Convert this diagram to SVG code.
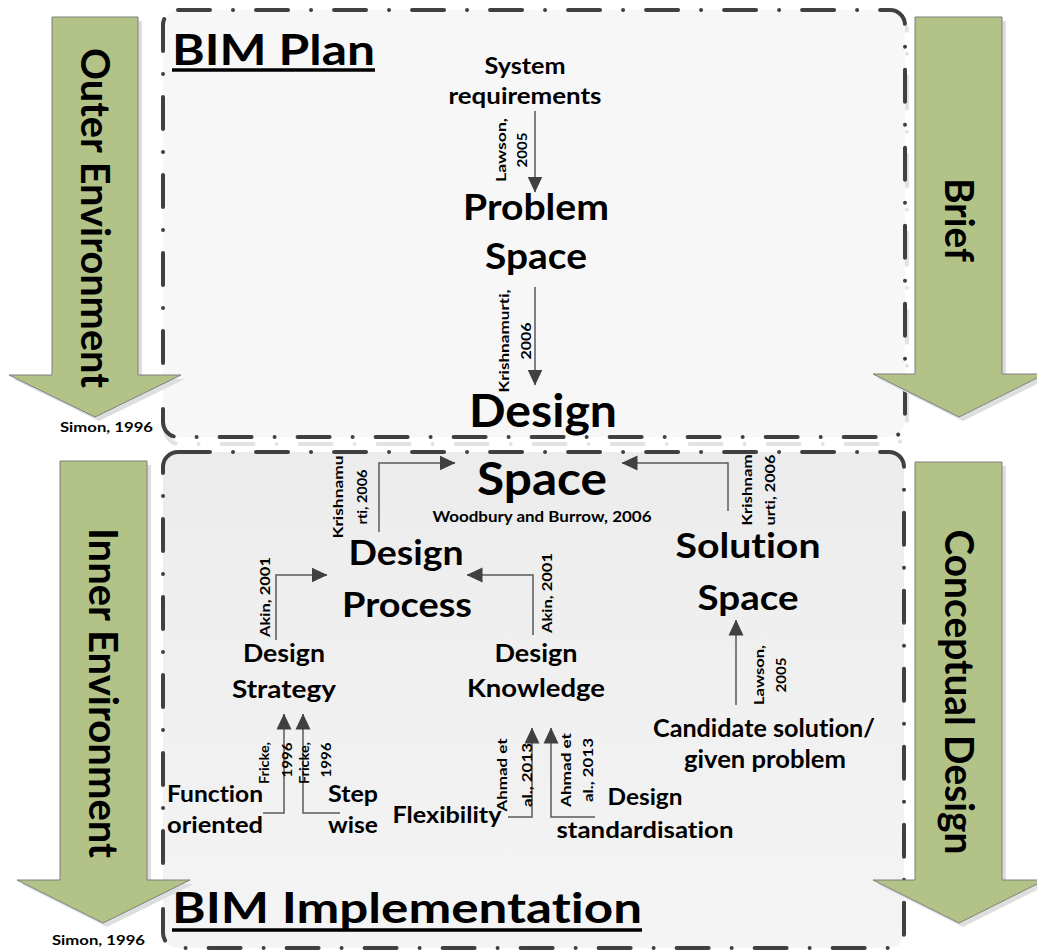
<svg xmlns="http://www.w3.org/2000/svg" width="1037" height="951" viewBox="0 0 1037 951">
<defs>
<style>
.t{font-family:Lato,"Open Sans","Liberation Sans",sans-serif;font-weight:700;fill:#000;font-variant-ligatures:none;font-feature-settings:"liga" 0,"dlig" 0}
.m{text-anchor:middle}
.conn{fill:none;stroke:#595959;stroke-width:1.5;marker-end:url(#ah)}
.green{fill:#b3c387;stroke:#7f7f7f;stroke-width:1}
.gsh{fill:#dedede}
.box{stroke:#404040;stroke-width:4;stroke-dasharray:32 23 0.01 23;stroke-linecap:round}
.boxsh{fill:none;stroke:#e2e2e2;stroke-width:4;stroke-dasharray:32 23 0.01 23;stroke-linecap:round}
.ul{stroke:#000;stroke-width:3.5}
.s13{font-size:14px}
.s14{font-size:15px}
.s22{font-size:22px}
.s24{font-size:24px}
.s35{font-size:35px}
.s36{font-size:36px}
.s40{font-size:40px}
.s42{font-size:42px}
.s45{font-size:45px}
</style>
<linearGradient id="gb" x1="0" y1="0" x2="0" y2="1">
<stop offset="0" stop-color="#ececec"/>
<stop offset="1" stop-color="#f4f4f4"/>
</linearGradient>
<marker id="ah" markerUnits="userSpaceOnUse" markerWidth="16" markerHeight="16" refX="15.5" refY="8" orient="auto">
<path d="M0,0.5 L16,8 L0,15.5 z" fill="#404040"/>
</marker>
</defs>
<rect width="1037" height="951" fill="#fff"/>

<g id="box-bim-plan">
<rect class="boxsh" x="165" y="17" width="742" height="427" rx="15"/>
<rect class="box" x="163" y="10" width="742" height="427" rx="15" fill="#f7f7f7"/>
<text class="t s42" x="172" y="65" textLength="203" lengthAdjust="spacingAndGlyphs">BIM Plan</text>
<line class="ul" x1="172" y1="70" x2="375" y2="70"/>
</g>

<g id="box-bim-implementation">
<rect class="box" x="163" y="452" width="741" height="496" rx="15" fill="url(#gb)"/>
<text class="t s42" x="172" y="923" textLength="470" lengthAdjust="spacingAndGlyphs">BIM Implementation</text>
<line class="ul" x1="172" y1="930" x2="642" y2="930"/>
</g>

<g id="arrow-outer-environment">
<polygon class="gsh" points="56,21 142,21 142,379 185,379 99,421 13,379 56,379"/>
<polygon class="green" points="52,17 138,17 138,375 181,375 95,417 9,375 52,375"/>
<text class="t s40 m" transform="translate(80.7,218) rotate(90)" textLength="340" lengthAdjust="spacingAndGlyphs">Outer Environment</text>
<text class="t s13" x="60" y="432" textLength="93" lengthAdjust="spacingAndGlyphs">Simon, 1996</text>
</g>

<g id="arrow-inner-environment">
<polygon class="gsh" points="64,465 151,465 151,884 194,884 107,927 21,884 64,884"/>
<polygon class="green" points="60,461 147,461 147,880 190,880 103,923 17,880 60,880"/>
<text class="t s40 m" transform="translate(88.7,693) rotate(90)" textLength="330" lengthAdjust="spacingAndGlyphs">Inner Environment</text>
<text class="t s13" x="52" y="945" textLength="93" lengthAdjust="spacingAndGlyphs">Simon, 1996</text>
</g>

<g id="arrow-brief">
<polygon class="gsh" points="919,21 1006,21 1006,378 1049,378 963,421 877,378 919,378"/>
<polygon class="green" points="915,17 1002,17 1002,374 1045,374 959,417 873,374 915,374"/>
<text class="t s40 m" transform="translate(944.7,220) rotate(90)" textLength="84" lengthAdjust="spacingAndGlyphs">Brief</text>
</g>

<g id="arrow-conceptual-design">
<polygon class="gsh" points="919,466 1006,466 1006,884 1049,884 963,927 877,884 919,884"/>
<polygon class="green" points="915,462 1002,462 1002,880 1045,880 959,923 873,880 915,880"/>
<text class="t s40 m" transform="translate(944.7,692) rotate(90)" textLength="325" lengthAdjust="spacingAndGlyphs">Conceptual Design</text>
</g>

<g id="connectors">
<path class="conn" d="M535,111 V192"/>
<path class="conn" d="M535,287 V385"/>
<path class="conn" d="M379,532 V463 H455"/>
<path class="conn" d="M728,511 V463 H622"/>
<path class="conn" d="M276,640 V575 H327"/>
<path class="conn" d="M533,635 V575 H467"/>
<path class="conn" d="M263,813 H284 V714"/>
<path class="conn" d="M340,813 H303 V714"/>
<path class="conn" d="M508,817 H532 V728"/>
<path class="conn" d="M595,817 H551 V728"/>
<path class="conn" d="M736,705 V620"/>
</g>

<g id="connector-labels">
<text class="t s13 m" transform="translate(506,150) rotate(-90)" textLength="64" lengthAdjust="spacingAndGlyphs">Lawson,</text>
<text class="t s13 m" transform="translate(527,150) rotate(-90)" textLength="35" lengthAdjust="spacingAndGlyphs">2005</text>
<text class="t s13 m" transform="translate(509,341) rotate(-90)" textLength="103" lengthAdjust="spacingAndGlyphs">Krishnamurti,</text>
<text class="t s13 m" transform="translate(531,341) rotate(-90)" textLength="37" lengthAdjust="spacingAndGlyphs">2006</text>
<text class="t s13 m" transform="translate(343,497) rotate(-90)" textLength="83" lengthAdjust="spacingAndGlyphs">Krishnamu</text>
<text class="t s13 m" transform="translate(367,497) rotate(-90)" textLength="55" lengthAdjust="spacingAndGlyphs">rti, 2006</text>
<text class="t s13 m" transform="translate(752,490) rotate(-90)" textLength="71" lengthAdjust="spacingAndGlyphs">Krishnam</text>
<text class="t s13 m" transform="translate(775,490) rotate(-90)" textLength="71" lengthAdjust="spacingAndGlyphs">urti, 2006</text>
<text class="t s13 m" transform="translate(270,597) rotate(-90)" textLength="80" lengthAdjust="spacingAndGlyphs">Akin, 2001</text>
<text class="t s13 m" transform="translate(552,593) rotate(-90)" textLength="80" lengthAdjust="spacingAndGlyphs">Akin, 2001</text>
<text class="t s13 m" transform="translate(269,763) rotate(-90)" textLength="42" lengthAdjust="spacingAndGlyphs">Fricke,</text>
<text class="t s13 m" transform="translate(292,760) rotate(-90)" textLength="35" lengthAdjust="spacingAndGlyphs">1996</text>
<text class="t s13 m" transform="translate(309,763) rotate(-90)" textLength="42" lengthAdjust="spacingAndGlyphs">Fricke,</text>
<text class="t s13 m" transform="translate(331,760) rotate(-90)" textLength="35" lengthAdjust="spacingAndGlyphs">1996</text>
<text class="t s13 m" transform="translate(507,775) rotate(-90)" textLength="73" lengthAdjust="spacingAndGlyphs">Ahmad et</text>
<text class="t s13 m" transform="translate(532,775) rotate(-90)" textLength="64" lengthAdjust="spacingAndGlyphs">al., 2013</text>
<text class="t s13 m" transform="translate(571,770) rotate(-90)" textLength="74" lengthAdjust="spacingAndGlyphs">Ahmad et</text>
<text class="t s13 m" transform="translate(593,770) rotate(-90)" textLength="64" lengthAdjust="spacingAndGlyphs">al., 2013</text>
<text class="t s13 m" transform="translate(764,675) rotate(-90)" textLength="60" lengthAdjust="spacingAndGlyphs">Lawson,</text>
<text class="t s13 m" transform="translate(786,675) rotate(-90)" textLength="35" lengthAdjust="spacingAndGlyphs">2005</text>
</g>

<g id="node-system-requirements">
<text class="t s22 m" x="525" y="74" textLength="81" lengthAdjust="spacingAndGlyphs">System</text>
<text class="t s22 m" x="525" y="104" textLength="153" lengthAdjust="spacingAndGlyphs">requirements</text>
</g>

<g id="node-problem-space">
<text class="t s36 m" x="536" y="220" textLength="146" lengthAdjust="spacingAndGlyphs">Problem</text>
<text class="t s36 m" x="536" y="269" textLength="102" lengthAdjust="spacingAndGlyphs">Space</text>
</g>

<g id="node-design-space">
<text class="t s45 m" x="543" y="427" textLength="148" lengthAdjust="spacingAndGlyphs">Design</text>
<text class="t s45 m" x="542" y="495" textLength="130" lengthAdjust="spacingAndGlyphs">Space</text>
<text class="t s14 m" x="542" y="522" textLength="219" lengthAdjust="spacingAndGlyphs">Woodbury and Burrow, 2006</text>
</g>

<g id="node-design-process">
<text class="t s35 m" x="406" y="565" textLength="115" lengthAdjust="spacingAndGlyphs">Design</text>
<text class="t s35 m" x="407" y="617" textLength="130" lengthAdjust="spacingAndGlyphs">Process</text>
</g>

<g id="node-solution-space">
<text class="t s35 m" x="748" y="558" textLength="145" lengthAdjust="spacingAndGlyphs">Solution</text>
<text class="t s35 m" x="748" y="610" textLength="101" lengthAdjust="spacingAndGlyphs">Space</text>
</g>

<g id="node-design-strategy">
<text class="t s24 m" x="284" y="662" textLength="82" lengthAdjust="spacingAndGlyphs">Design</text>
<text class="t s24 m" x="284" y="698" textLength="104" lengthAdjust="spacingAndGlyphs">Strategy</text>
</g>

<g id="node-design-knowledge">
<text class="t s24 m" x="536" y="662" textLength="83" lengthAdjust="spacingAndGlyphs">Design</text>
<text class="t s24 m" x="536" y="697" textLength="138" lengthAdjust="spacingAndGlyphs">Knowledge</text>
</g>

<g id="node-function-oriented">
<text class="t s22 m" x="215" y="802" textLength="96" lengthAdjust="spacingAndGlyphs">Function</text>
<text class="t s22 m" x="215" y="833" textLength="96" lengthAdjust="spacingAndGlyphs">oriented</text>
</g>

<g id="node-step-wise">
<text class="t s22 m" x="353" y="802" textLength="50" lengthAdjust="spacingAndGlyphs">Step</text>
<text class="t s22 m" x="353" y="833" textLength="50" lengthAdjust="spacingAndGlyphs">wise</text>
</g>

<g id="node-flexibility">
<text class="t s22 m" x="447" y="823" textLength="109" lengthAdjust="spacingAndGlyphs">Flexibility</text>
</g>

<g id="node-design-standardisation">
<text class="t s22 m" x="645" y="805" textLength="75" lengthAdjust="spacingAndGlyphs">Design</text>
<text class="t s22 m" x="645" y="838" textLength="177" lengthAdjust="spacingAndGlyphs">standardisation</text>
</g>

<g id="node-candidate-solution">
<text class="t s24 m" x="764" y="737" textLength="222" lengthAdjust="spacingAndGlyphs">Candidate solution/</text>
<text class="t s24 m" x="765" y="768" textLength="162" lengthAdjust="spacingAndGlyphs">given problem</text>
</g>
</svg>
